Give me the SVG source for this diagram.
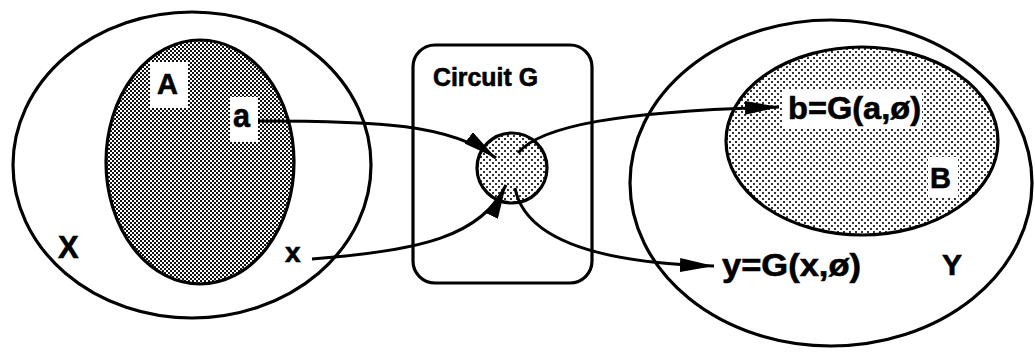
<svg xmlns="http://www.w3.org/2000/svg" width="1035" height="354" viewBox="0 0 1035 354">
  <style>
    .outline { fill: none; stroke: #000; stroke-width: 3.2; }
    .wire { fill: none; stroke: #000; stroke-width: 3; }
    .lbl { font-family: "Liberation Sans", Arial, Helvetica, sans-serif; font-weight: bold; fill: #000; stroke: #000; stroke-width: 0.6; }
    .box { fill: #fff; stroke: none; }
  </style>
  <defs>
    <!-- dense stipple for set A -->
    <pattern id="stippleDark" width="4" height="4" patternUnits="userSpaceOnUse">
      <rect width="4" height="4" fill="#fff"/>
      <rect x="0" y="0" width="2" height="2" fill="#111"/>
      <rect x="2" y="2" width="2" height="2" fill="#111"/>
    </pattern>
    <!-- lighter stipple for set B and the circuit node -->
    <pattern id="stippleLight" width="6" height="6" patternUnits="userSpaceOnUse">
      <rect width="6" height="6" fill="#fff"/>
      <rect x="0" y="0" width="2" height="2" fill="#333"/>
      <rect x="3" y="3" width="2" height="2" fill="#333"/>
    </pattern>
    <marker id="arrow" viewBox="0 0 34 14" refX="34" refY="7" markerWidth="34" markerHeight="14" markerUnits="userSpaceOnUse" orient="auto">
      <path d="M0,0 L34,7 L0,14 Z" fill="#000"/>
    </marker>
  </defs>

  <!-- input space X with subset A -->
  <g id="setX">
    <ellipse class="outline" cx="192" cy="165" rx="179" ry="153" fill="#fff"/>
    <text class="lbl" x="58" y="258" font-size="31">X</text>
  </g>
  <g id="setA">
    <ellipse cx="200" cy="162" rx="94" ry="122" fill="url(#stippleDark)" stroke="#000" stroke-width="3.2"/>
    <rect class="box" x="150" y="62" width="38" height="46"/>
    <text class="lbl" x="157" y="94" font-size="29">A</text>
  </g>
  <g id="elemA">
    <rect class="box" x="230" y="97" width="28" height="45"/>
    <text class="lbl" x="233" y="127" font-size="33" textLength="17" lengthAdjust="spacingAndGlyphs">a</text>
  </g>
  <g id="elemX">
    <text class="lbl" x="285" y="262" font-size="28">x</text>
  </g>

  <!-- output space Y with subset B -->
  <g id="setY">
    <ellipse class="outline" cx="831" cy="183" rx="201" ry="163" fill="#fff"/>
    <text class="lbl" x="942" y="275" font-size="30">Y</text>
  </g>
  <g id="setB">
    <ellipse cx="862" cy="141" rx="136" ry="94" fill="url(#stippleLight)" stroke="#000" stroke-width="3.2"/>
    <rect class="box" x="928" y="157" width="30" height="40"/>
    <text class="lbl" x="930" y="188" font-size="29">B</text>
  </g>
  <g id="elemB">
    <rect class="box" x="783" y="90" width="139" height="39"/>
    <text class="lbl" x="788" y="119" font-size="32" textLength="133" lengthAdjust="spacingAndGlyphs">b=G(a,ø)</text>
  </g>
  <g id="elemY">
    <text class="lbl" x="722" y="276" font-size="32" textLength="139" lengthAdjust="spacingAndGlyphs">y=G(x,ø)</text>
  </g>

  <!-- the circuit -->
  <g id="circuitG">
    <rect class="outline" x="413" y="45" width="179" height="238" rx="22" ry="22" fill="#fff"/>
    <text class="lbl" x="433" y="86" font-size="25" textLength="105" lengthAdjust="spacingAndGlyphs">Circuit G</text>
  </g>
  <g id="circuitNode">
    <circle cx="512" cy="168" r="35" fill="url(#stippleLight)" stroke="#000" stroke-width="3.2"/>
  </g>

  <!-- mappings through the circuit -->
  <g id="connectors">
    <path class="wire" d="M258,121 C380,121 450,124 496,158" marker-end="url(#arrow)"/>
    <path class="wire" d="M312,259 C420,251 482,236 506,185" marker-end="url(#arrow)"/>
    <path class="wire" d="M518,153 C540,126 620,111 779,107" marker-end="url(#arrow)"/>
    <path class="wire" d="M515,188 C525,240 600,263 714,266" marker-end="url(#arrow)"/>
  </g>
</svg>
